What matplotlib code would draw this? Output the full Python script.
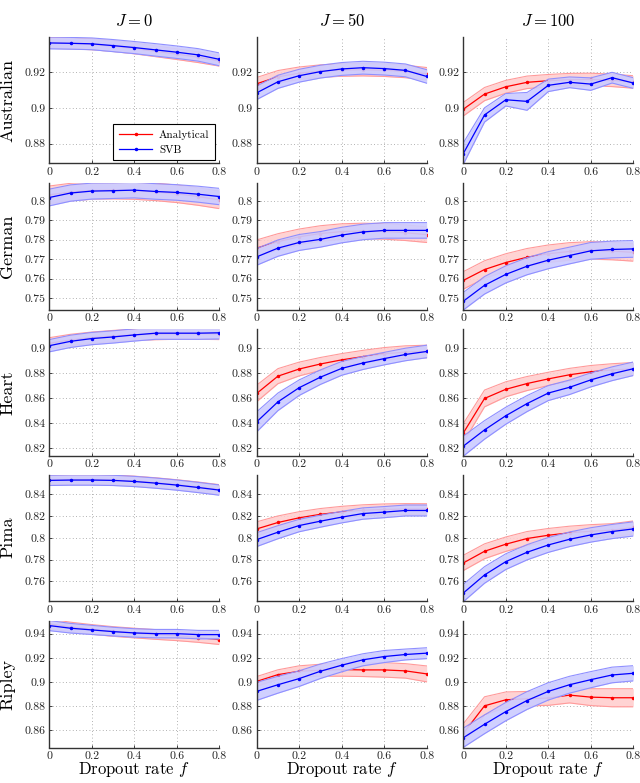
import numpy as np
import matplotlib
matplotlib.use("Agg")
import matplotlib.pyplot as plt

plt.rcParams['font.family'] = ['cmr10', 'DejaVu Serif']
plt.rcParams['mathtext.fontset'] = 'cm'
plt.rcParams['axes.formatter.use_mathtext'] = True

# ---------------- data ----------------
dropout = [0.0, 0.1, 0.2, 0.3, 0.4, 0.5, 0.6, 0.7, 0.8]
datasets = ["Australian", "German", "Heart", "Pima", "Ripley"]
J_values = [0, 50, 100]

# Analytical means / half-widths per dataset (rows) and J (cols)
analytical_mean = {
    "Australian": [
        [0.9365, 0.9362, 0.9357, 0.9347, 0.9334, 0.9318, 0.9302, 0.9285, 0.9265],
        [0.9136, 0.9175, 0.9195, 0.9207, 0.9213, 0.9215, 0.9212, 0.9205, 0.9192],
        [0.8993, 0.9078, 0.9119, 0.9144, 0.9153, 0.9159, 0.9160, 0.9155, 0.9146],
    ],
    "German": [
        [0.8031, 0.8045, 0.8053, 0.8055, 0.8053, 0.8046, 0.8036, 0.8022, 0.8005],
        [0.7757, 0.7790, 0.7815, 0.7832, 0.7842, 0.7845, 0.7843, 0.7836, 0.7826],
        [0.7591, 0.7647, 0.7683, 0.7710, 0.7728, 0.7740, 0.7745, 0.7742, 0.7735],
    ],
    "Heart": [
        [0.9038, 0.9065, 0.9083, 0.9096, 0.9106, 0.9112, 0.9115, 0.9115, 0.9113],
        [0.8638, 0.8776, 0.8833, 0.8873, 0.8906, 0.8932, 0.8954, 0.8968, 0.8973],
        [0.8322, 0.8598, 0.8671, 0.8717, 0.8754, 0.8787, 0.8811, 0.8825, 0.8835],
    ],
    "Pima": [
        [0.8530, 0.8533, 0.8533, 0.8530, 0.8520, 0.8505, 0.8487, 0.8466, 0.8442],
        [0.8081, 0.8140, 0.8183, 0.8215, 0.8237, 0.8252, 0.8260, 0.8263, 0.8262],
        [0.7769, 0.7876, 0.7941, 0.7993, 0.8023, 0.8045, 0.8060, 0.8069, 0.8094],
    ],
    "Ripley": [
        [0.9481, 0.9455, 0.9435, 0.9418, 0.9405, 0.9393, 0.9382, 0.9368, 0.9350],
        [0.9004, 0.9060, 0.9088, 0.9096, 0.9102, 0.9099, 0.9099, 0.9091, 0.9066],
        [0.8572, 0.8801, 0.8851, 0.8860, 0.8865, 0.8890, 0.8873, 0.8868, 0.8868],
    ],
}
analytical_err = {
    "Australian": [
        [0.0030, 0.0030, 0.0030, 0.0030, 0.0030, 0.0030, 0.0030, 0.0030, 0.0030],
        [0.0035, 0.0035, 0.0035, 0.0035, 0.0035, 0.0035, 0.0035, 0.0035, 0.0035],
        [0.0038, 0.0037, 0.0036, 0.0035, 0.0035, 0.0035, 0.0035, 0.0035, 0.0035],
    ],
    "German": [
        [0.0045, 0.0045, 0.0045, 0.0045, 0.0045, 0.0045, 0.0045, 0.0045, 0.0045],
        [0.0042, 0.0041, 0.0040, 0.0040, 0.0040, 0.0040, 0.0040, 0.0040, 0.0040],
        [0.0045, 0.0045, 0.0045, 0.0045, 0.0045, 0.0045, 0.0045, 0.0045, 0.0045],
    ],
    "Heart": [
        [0.0045, 0.0045, 0.0045, 0.0045, 0.0045, 0.0045, 0.0045, 0.0045, 0.0045],
        [0.0066, 0.0060, 0.0055, 0.0052, 0.0050, 0.0050, 0.0050, 0.0050, 0.0050],
        [0.0075, 0.0067, 0.0060, 0.0056, 0.0053, 0.0051, 0.0050, 0.0050, 0.0050],
    ],
    "Pima": [
        [0.0045, 0.0045, 0.0045, 0.0045, 0.0045, 0.0045, 0.0045, 0.0045, 0.0045],
        [0.0065, 0.0060, 0.0056, 0.0053, 0.0051, 0.0050, 0.0050, 0.0050, 0.0050],
        [0.0070, 0.0068, 0.0066, 0.0064, 0.0062, 0.0061, 0.0060, 0.0060, 0.0060],
    ],
    "Ripley": [
        [0.0040, 0.0040, 0.0040, 0.0040, 0.0040, 0.0040, 0.0040, 0.0040, 0.0040],
        [0.0040, 0.0040, 0.0045, 0.0050, 0.0055, 0.0055, 0.0060, 0.0060, 0.0066],
        [0.0080, 0.0075, 0.0065, 0.0060, 0.0060, 0.0065, 0.0070, 0.0075, 0.0075],
    ],
}

svb_mean = {
    "Australian": [
        [0.9365, 0.9363, 0.9360, 0.9350, 0.9339, 0.9326, 0.9313, 0.9298, 0.9273],
        [0.9085, 0.9147, 0.9181, 0.9204, 0.9219, 0.9226, 0.9221, 0.9211, 0.9177],
        [0.8744, 0.8961, 0.9046, 0.9037, 0.9127, 0.9144, 0.9134, 0.9170, 0.9140],
    ],
    "German": [
        [0.8017, 0.8040, 0.8050, 0.8052, 0.8055, 0.8048, 0.8043, 0.8034, 0.8022],
        [0.7712, 0.7757, 0.7786, 0.7802, 0.7824, 0.7840, 0.7848, 0.7848, 0.7848],
        [0.7484, 0.7566, 0.7622, 0.7664, 0.7695, 0.7719, 0.7743, 0.7750, 0.7753],
    ],
    "Heart": [
        [0.9019, 0.9054, 0.9076, 0.9089, 0.9105, 0.9119, 0.9119, 0.9119, 0.9122],
        [0.8411, 0.8571, 0.8684, 0.8768, 0.8838, 0.8881, 0.8916, 0.8949, 0.8973],
        [0.8217, 0.8347, 0.8460, 0.8557, 0.8641, 0.8687, 0.8746, 0.8795, 0.8835],
    ],
    "Pima": [
        [0.8526, 0.8529, 0.8529, 0.8526, 0.8516, 0.8501, 0.8483, 0.8461, 0.8437],
        [0.7983, 0.8051, 0.8112, 0.8152, 0.8189, 0.8222, 0.8235, 0.8250, 0.8250],
        [0.7493, 0.7659, 0.7781, 0.7867, 0.7934, 0.7986, 0.8026, 0.8057, 0.8081],
    ],
    "Ripley": [
        [0.9467, 0.9445, 0.9431, 0.9417, 0.9406, 0.9400, 0.9400, 0.9392, 0.9392],
        [0.8921, 0.8976, 0.9027, 0.9088, 0.9138, 0.9183, 0.9210, 0.9227, 0.9238],
        [0.8536, 0.8648, 0.8753, 0.8845, 0.8921, 0.8976, 0.9018, 0.9057, 0.9071],
    ],
}
svb_err = {
    "Australian": [
        [0.0033, 0.0033, 0.0033, 0.0034, 0.0034, 0.0035, 0.0035, 0.0035, 0.0036],
        [0.0038, 0.0037, 0.0036, 0.0036, 0.0036, 0.0036, 0.0036, 0.0036, 0.0038],
        [0.0060, 0.0040, 0.0035, 0.0050, 0.0035, 0.0030, 0.0035, 0.0030, 0.0030],
    ],
    "German": [
        [0.0043, 0.0042, 0.0041, 0.0040, 0.0040, 0.0040, 0.0040, 0.0041, 0.0042],
        [0.0043, 0.0042, 0.0041, 0.0040, 0.0040, 0.0040, 0.0040, 0.0040, 0.0040],
        [0.0045, 0.0045, 0.0044, 0.0044, 0.0044, 0.0043, 0.0043, 0.0043, 0.0043],
    ],
    "Heart": [
        [0.0049, 0.0049, 0.0049, 0.0049, 0.0049, 0.0049, 0.0049, 0.0049, 0.0049],
        [0.0080, 0.0070, 0.0062, 0.0058, 0.0055, 0.0052, 0.0050, 0.0050, 0.0050],
        [0.0080, 0.0074, 0.0068, 0.0064, 0.0060, 0.0058, 0.0056, 0.0055, 0.0054],
    ],
    "Pima": [
        [0.0047, 0.0047, 0.0047, 0.0047, 0.0047, 0.0047, 0.0047, 0.0047, 0.0047],
        [0.0064, 0.0060, 0.0057, 0.0055, 0.0053, 0.0052, 0.0051, 0.0050, 0.0050],
        [0.0080, 0.0076, 0.0072, 0.0070, 0.0068, 0.0067, 0.0066, 0.0065, 0.0065],
    ],
    "Ripley": [
        [0.0042, 0.0040, 0.0038, 0.0036, 0.0035, 0.0035, 0.0035, 0.0035, 0.0035],
        [0.0075, 0.0070, 0.0065, 0.0060, 0.0055, 0.0050, 0.0050, 0.0045, 0.0045],
        [0.0080, 0.0078, 0.0076, 0.0074, 0.0072, 0.0070, 0.0067, 0.0065, 0.0063],
    ],
}

ylims = {
    "Australian": (0.869, 0.940),
    "German": (0.744, 0.809),
    "Heart": (0.814, 0.915),
    "Pima": (0.742, 0.858),
    "Ripley": (0.8455, 0.9505),
}
yticks = {
    "Australian": [0.88, 0.90, 0.92],
    "German": [0.75, 0.76, 0.77, 0.78, 0.79, 0.80],
    "Heart": [0.82, 0.84, 0.86, 0.88, 0.90],
    "Pima": [0.76, 0.78, 0.80, 0.82, 0.84],
    "Ripley": [0.86, 0.88, 0.90, 0.92, 0.94],
}
ytick_labels = {
    "Australian": ["0.88", "0.9", "0.92"],
    "German": ["0.75", "0.76", "0.77", "0.78", "0.79", "0.8"],
    "Heart": ["0.82", "0.84", "0.86", "0.88", "0.9"],
    "Pima": ["0.76", "0.78", "0.8", "0.82", "0.84"],
    "Ripley": ["0.86", "0.88", "0.9", "0.92", "0.94"],
}
xticks = [0.0, 0.2, 0.4, 0.6, 0.8]
xtick_labels = ["0", "0.2", "0.4", "0.6", "0.8"]

# ---------------- figure ----------------
W, H = 640, 783
fig = plt.figure(figsize=(W / 100, H / 100), dpi=100)

col_left = [49.3, 256.7, 463.3]
col_w = 170.0
row_top = [36.7, 183.3, 329.3, 474.5, 621.0]
row_h = 126.5

RED = "#ff0000"
BLUE = "#0000ff"
RED_FILL = "#ffcccc"
RED_EDGE = "#ff9a9a"
BLUE_FILL = "#ccccff"
BLUE_EDGE = "#8f8fff"
x = np.array(dropout)

for r, name in enumerate(datasets):
    for c, J in enumerate(J_values):
        ax = fig.add_axes([col_left[c] / W, 1 - (row_top[r] + row_h) / H,
                           col_w / W, row_h / H])
        am = np.array(analytical_mean[name][c])
        ae = np.array(analytical_err[name][c])
        sm = np.array(svb_mean[name][c])
        se = np.array(svb_err[name][c])

        ax.fill_between(x, am - ae, am + ae, color=RED_FILL, alpha=0.85, lw=0, zorder=2)
        ax.plot(x, am - ae, color=RED_EDGE, lw=0.8, zorder=2)
        ax.plot(x, am + ae, color=RED_EDGE, lw=0.8, zorder=2)
        ax.plot(x, am, color=RED, lw=0.9, marker='.', ms=3, zorder=3,
                label="Analytical")
        ax.fill_between(x, sm - se, sm + se, color=BLUE_FILL, alpha=0.92, lw=0, zorder=4)
        ax.plot(x, sm - se, color=BLUE_EDGE, lw=0.8, zorder=4)
        ax.plot(x, sm + se, color=BLUE_EDGE, lw=0.8, zorder=4)
        ax.plot(x, sm, color=BLUE, lw=0.9, marker='.', ms=3, zorder=5,
                label="SVB")

        ax.set_xlim(0, 0.8)
        ax.set_ylim(*ylims[name])
        ax.set_xticks(xticks)
        ax.set_xticklabels(xtick_labels)
        ax.set_yticks(yticks[name])
        ax.set_yticklabels(ytick_labels[name])
        ax.tick_params(labelsize=8.5, direction='in', length=2, width=0.6,
                       colors='#222222', pad=3)
        ax.grid(True, linestyle=(0, (1, 3)), color='#999999', lw=0.6)
        ax.set_axisbelow(True)
        for s in ['top', 'right']:
            ax.spines[s].set_visible(False)
        for s in ['left', 'bottom']:
            ax.spines[s].set_color('#333333')
            ax.spines[s].set_linewidth(1.0)
            ax.spines[s].set_zorder(6)

        if r == 0:
            ax.set_title(r"$J = %d$" % J, fontsize=12, pad=8)
        if c == 0:
            ax.set_ylabel(name, fontsize=13)
            ax.yaxis.set_label_coords(-0.2, 0.5)
        if r == len(datasets) - 1:
            ax.set_xlabel(r"Dropout rate $f$", fontsize=12)
            ax.xaxis.set_label_coords(0.5, -0.1)
        if r == 0 and c == 0:
            leg = ax.legend(loc='lower right', bbox_to_anchor=(0.975, 0.022),
                            borderaxespad=0.0,
                            fontsize=8, frameon=True, fancybox=False,
                            edgecolor='black', framealpha=1, handlelength=3.0,
                            borderpad=0.5, labelspacing=0.5, handletextpad=0.6)
            leg.get_frame().set_linewidth(0.8)
            leg.set_zorder(10)

fig.savefig("out.png", dpi=100)
